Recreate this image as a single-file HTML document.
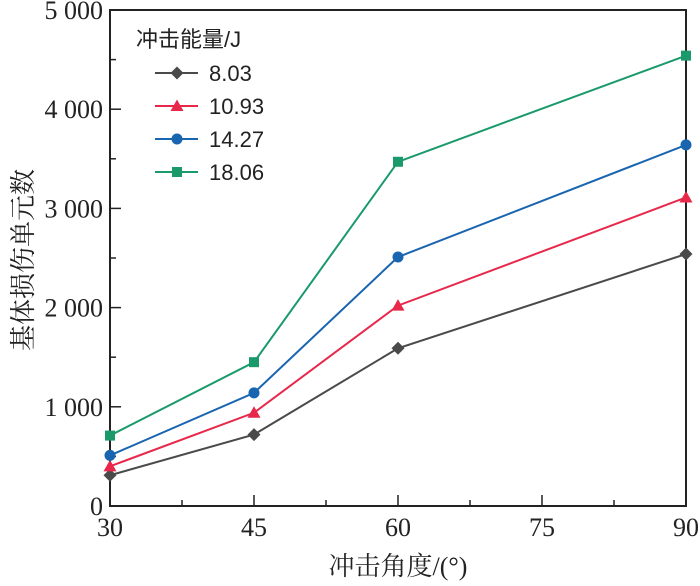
<!DOCTYPE html>
<html><head><meta charset="utf-8"><style>
body{margin:0;background:#fff}
svg text{font-family:"Liberation Serif","Noto Serif CJK SC",serif;fill:#222}
svg text.sans{font-family:"Liberation Sans","Noto Sans CJK SC",sans-serif}
</style></head><body>
<svg id="c" width="700" height="581" xmlns="http://www.w3.org/2000/svg"></svg>
<script>
const categories=[30,45,60,90];
const s1=[310,720,1590,2540];
const s2=[400,940,2020,3110];
const s3=[510,1140,2510,3640];
const s4=[710,1450,3470,4540];
const seriesNames=["8.03","10.93","14.27","18.06"];
const xTicks=[30,45,60,75,90];
const yTicks=[0,1000,2000,3000,4000,5000];
const yTickLabels=["0","1 000","2 000","3 000","4 000","5 000"];
const svg=document.getElementById('c');
const NS="http://www.w3.org/2000/svg";
const L=110,R=686,T=10,B=506;
const x=v=>L+(v-30)/60*(R-L);
const y=v=>B-v/5000*(B-T);
function mk(tag,attrs,parent){const e=document.createElementNS(NS,tag);for(const k in attrs)e.setAttribute(k,attrs[k]);(parent||svg).appendChild(e);return e;}
const frame=mk('rect',{x:L,y:T,width:R-L,height:B-T,fill:'none',stroke:'#222','stroke-width':2});


for(let i=0;i<xTicks.length;i++){
 const v=xTicks[i];
 const t=mk('line',{x1:x(v),x2:x(v),y1:B,y2:B-11,stroke:'#222','stroke-width':1.5});
 
 
 if(i<xTicks.length-1){const m=mk('line',{x1:x(v+7.5),x2:x(v+7.5),y1:B,y2:B-6,stroke:'#222','stroke-width':1.5});
 
 }
 const lb=mk('text',{x:x(v),y:B+30,'text-anchor':'middle','font-size':26});lb.textContent=v;
 
 
}
for(let i=0;i<yTicks.length;i++){
 const v=yTicks[i];
 const t=mk('line',{x1:L,x2:L+11,y1:y(v),y2:y(v),stroke:'#222','stroke-width':1.5});
 
 
 if(i<yTicks.length-1){const m=mk('line',{x1:L,x2:L+6,y1:y(v+500),y2:y(v+500),stroke:'#222','stroke-width':1.5});
 
 }
 const lb=mk('text',{x:L-7,y:y(v)+9,'text-anchor':'end','font-size':26});lb.textContent=yTickLabels[i];
 
 
}
const xt=mk('text',{x:398,y:575,'text-anchor':'middle','font-size':26});xt.textContent='冲击角度/(°)';


const yt=mk('text',{x:0,y:0,'text-anchor':'middle','font-size':26,transform:'translate(32,260) rotate(-90)'});yt.textContent='基体损伤单元数';


const data=[s1,s2,s3,s4];
const colors=['#4a4a4a','#e8284a','#1a65b0','#1a9a6a'];
const shapes=['diamond','triangle','circle','square'];
function marker(shape,cx,cy,col,g){
 let e;
 if(shape==='diamond')e=mk('polygon',{points:`${cx},${cy-6.5} ${cx+6.5},${cy} ${cx},${cy+6.5} ${cx-6.5},${cy}`,fill:col},g);
 else if(shape==='triangle')e=mk('polygon',{points:`${cx},${cy-6.5} ${cx+6.5},${cy+5} ${cx-6.5},${cy+5}`,fill:col},g);
 else if(shape==='circle')e=mk('circle',{cx:cx,cy:cy,r:5.5,fill:col},g);
 else e=mk('rect',{x:cx-5,y:cy-5,width:10,height:10,fill:col},g);
 return e;
}
for(let s=0;s<4;s++){
 const g=mk('g',{});
 
 
 const pts=categories.map((c,i)=>x(c)+','+y(data[s][i])).join(' ');
 const pl=mk('polyline',{points:pts,fill:'none',stroke:colors[s],'stroke-width':2},g);
 
 
 categories.forEach((c,i)=>{const m=marker(shapes[s],x(c),y(data[s][i]),colors[s],g);
  
  });
 const ly=73+s*33;
 const lg=mk('g',{},svg);
 
 
 mk('line',{x1:155,x2:198,y1:ly,y2:ly,stroke:colors[s],'stroke-width':2},lg);
 marker(shapes[s],177,ly,colors[s],lg);
 const lt=mk('text',{x:209,y:ly+8,'font-size':22,class:'sans'},lg);lt.textContent=seriesNames[s];
}
const lt=mk('text',{x:136,y:47,'font-size':22,class:'sans'});lt.textContent='冲击能量/J';


</script>
</body></html>
